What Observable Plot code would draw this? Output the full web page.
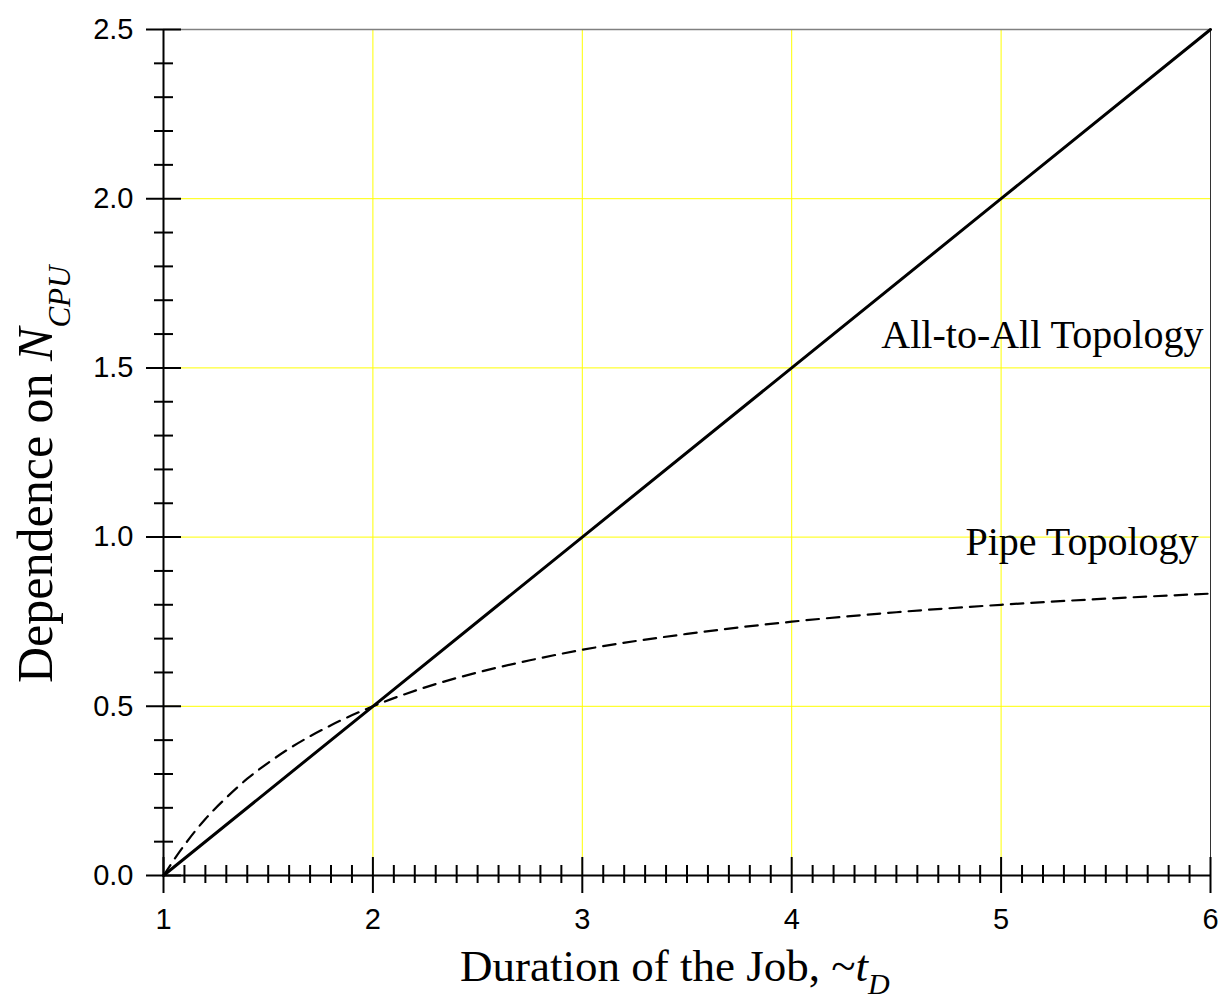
<!DOCTYPE html>
<html><head><meta charset="utf-8">
<script src="https://cdn.jsdelivr.net/npm/d3@7"></script>
<script src="https://cdn.jsdelivr.net/npm/@observablehq/plot@0.6"></script>
<style>body{margin:0;background:#fff}</style>
</head><body><div id="chart"></div>
<script>
// Data
const allX = [1, 2, 3, 4, 5, 6];
const allY = [0, 0.5, 1.0, 1.5, 2.0, 2.5];
const pipeX = [1, 1.1, 1.2, 1.3, 1.4, 1.5, 1.6, 1.8, 2, 2.25, 2.5, 2.75, 3, 3.5, 4, 4.5, 5, 5.5, 6];
const pipeY = [0, 0.09, 0.167, 0.23, 0.286, 0.333, 0.375, 0.444, 0.5, 0.556, 0.6, 0.636, 0.667, 0.714, 0.75, 0.778, 0.8, 0.818, 0.833];

const xMajor = [1, 2, 3, 4, 5, 6];
const xTickLabels = ["1", "2", "3", "4", "5", "6"];
const yMajor = [0, 0.5, 1.0, 1.5, 2.0, 2.5];
const yTickLabels = ["0.0", "0.5", "1.0", "1.5", "2.0", "2.5"];
const xMinor = d3.range(11, 60).filter(v => v % 10 !== 0).map(v => v / 10);
const yMinor = d3.range(1, 25).filter(v => v % 5 !== 0).map(v => v / 10);

const annoText = ["All-to-All Topology", "Pipe Topology"];
const annoX = [5.966, 5.943];
const annoY = [1.56, 0.946];

const allData = allX.map((x, i) => ({x, y: allY[i]}));
const pipeData = pipeX.map((x, i) => ({x, y: pipeY[i]}));
const annos = annoText.map((t, i) => ({t, x: annoX[i], y: annoY[i]}));

const chart = Plot.plot({
  width: 1221, height: 1001,
  marginLeft: 163, marginRight: 11, marginTop: 29, marginBottom: 126,
  style: {background: "#fff", fontFamily: "'Liberation Sans', Arial, sans-serif", fontSize: "29px", color: "#000"},
  x: {domain: [1, 6]},
  y: {domain: [0, 2.5]},
  marks: [
    Plot.gridX(xMajor.slice(1, -1), {stroke: "#ffff00", strokeOpacity: 1, strokeWidth: 1}),
    Plot.gridY(yMajor.slice(1, -1), {stroke: "#ffff00", strokeOpacity: 1, strokeWidth: 1}),
    Plot.ruleY([2.5], {stroke: "#808080", strokeWidth: 1.5}),
    Plot.ruleX([6], {stroke: "#333", strokeWidth: 1}),
    Plot.line(pipeData, {x: "x", y: "y", stroke: "#000", strokeWidth: 2.2, strokeDasharray: "12.5,8", curve: "monotone-x"}),
    Plot.line(allData, {x: "x", y: "y", stroke: "#000", strokeWidth: 3}),
    Plot.ruleX([1], {stroke: "#000", strokeWidth: 2}),
    Plot.ruleY([0], {stroke: "#000", strokeWidth: 2}),
    Plot.axisX(xMajor, {tickSize: 36, dy: -18, fill: "none", label: null, strokeWidth: 2, stroke: "#000"}),
    Plot.axisX(xMinor, {tickSize: 18, dy: -10, fill: "none", label: null, strokeWidth: 2, stroke: "#000"}),
    Plot.axisX(xMajor, {tickSize: 0, tickPadding: 33, label: null, fontSize: 29, fill: "#000",
      tickFormat: d => xTickLabels[xMajor.indexOf(d)]}),
    Plot.axisY(yMajor, {tickSize: 35, dx: 18, fill: "none", label: null, strokeWidth: 2, stroke: "#000"}),
    Plot.axisY(yMinor, {tickSize: 19, dx: 10, fill: "none", label: null, strokeWidth: 2, stroke: "#000"}),
    Plot.axisY(yMajor, {tickSize: 0, tickPadding: 30, label: null, fontSize: 29, fill: "#000",
      tickFormat: d => yTickLabels[yMajor.indexOf(d)]}),
    Plot.text(annos, {x: "x", y: "y", text: "t", textAnchor: "end", lineAnchor: "bottom",
      fontFamily: "'Liberation Serif', 'Times New Roman', serif", fontSize: 40, fill: "#000"})
  ]
});
document.getElementById("chart").appendChild(chart);

const svg = d3.select(chart);
const serif = "'Liberation Serif', 'Times New Roman', serif";
const yl = svg.append("text")
  .attr("transform", "translate(52,683) rotate(-90)")
  .attr("text-anchor", "start")
  .attr("font-family", serif).attr("font-size", 50).attr("fill", "#000");
yl.append("tspan").text("Dependence on ");
yl.append("tspan").attr("font-style", "italic").text("N");
yl.append("tspan").attr("font-style", "italic").attr("font-size", 31).attr("dy", 18).text("CPU");

const xl = svg.append("text")
  .attr("x", 460).attr("y", 981)
  .attr("text-anchor", "start")
  .attr("font-family", serif).attr("font-size", 45).attr("fill", "#000");
xl.append("tspan").text("Duration of the Job, ~");
xl.append("tspan").attr("font-style", "italic").text("t");
xl.append("tspan").attr("font-style", "italic").attr("font-size", 30).attr("dy", 13).text("D");
</script>
</body></html>
